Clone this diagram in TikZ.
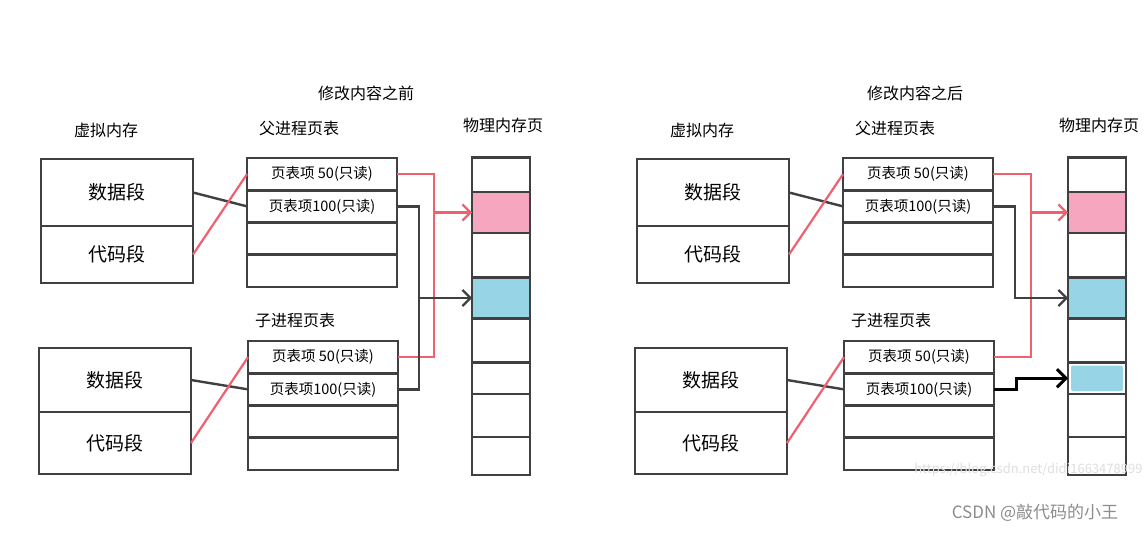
\documentclass[tikz,border=0pt]{standalone}
\usepackage{fontspec}
\setmainfont{Noto Sans CJK SC}
\usetikzlibrary{positioning, arrows.meta}

\definecolor{pagepink}{HTML}{F7A6BF}
\definecolor{pageblue}{HTML}{96D4E6}
\definecolor{linkred}{HTML}{F0606E}
\definecolor{boxgray}{HTML}{404040}

\begin{document}
\begin{tikzpicture}[x=1pt, y=-1pt,
    cell/.style={draw=boxgray, line width=2.6pt, inner sep=0pt, outer sep=0pt, font=\fontsize{14.5}{16}\selectfont},
    vmcell/.style={cell, minimum width=152pt, font=\fontsize{19}{21}\selectfont},
    ptcell/.style={cell, minimum width=150pt, minimum height=32.25pt},
    pgcell/.style={cell, minimum width=58pt},
    head/.style={font=\fontsize{16}{18}\selectfont},
    redlink/.style={linkred, line width=2.2pt},
    graylink/.style={boxgray, line width=2.4pt},
    arrowtip/.style={-{Straight Barb[length=8pt, width=16pt, line width=2.2pt]}}
  ]
  \useasboundingbox (0,0) rectangle (1147,533);

  \node[head] (before) at (366,93) {修改内容之前};
  \node[head] (after) at (915,93) {修改内容之后};

  % both halves share the boxes
  \foreach \s/\dx in {L/0, R/596} {
    \begin{scope}[xshift=\dx pt]
      \node[head] (\s-vmhead) at (106,130) {虚拟内存};
      \node[head] (\s-pthead1) at (299,128) {父进程页表};
      \node[head] (\s-pthead2) at (295,320) {子进程页表};
      \node[head] (\s-pghead) at (503,125) {物理内存页};

      % virtual memory
      \node[vmcell, minimum height=67pt] (\s-data1) at (117,192.5) {数据段};
      \node[vmcell, minimum height=57pt, below=0pt of \s-data1] (\s-code1) {代码段};
      \node[vmcell, minimum height=64pt] (\s-data2) at (115,380) {数据段};
      \node[vmcell, minimum height=62pt, below=0pt of \s-data2] (\s-code2) {代码段};

      % page tables
      \foreach \i/\txt in {1/页表项 50(只读), 2/页表项100(只读), 3/, 4/} {
        \node[ptcell] (\s-pt1-\i) at (322,{158+32.25*(\i-0.5)}) {\txt};
        \node[ptcell] (\s-pt2-\i) at (323,{341+32.25*(\i-0.5)}) {\txt};
      }

      % physical pages
      \foreach \i/\t/\b/\f in {1/157.5/192/white, 2/192/233/pagepink, 3/233/277.5/white,
          4/277.5/318.5/pageblue, 5/318.5/362.5/white, 6/362.5/394/white,
          7/394/437/white, 8/437/475/white} {
        \node[pgcell, fill=\f, minimum height={\b-\t}] (\s-pg\i) at (501,{(\t+\b)/2}) {};
      }

      \draw[graylink] (\s-data1.east) -- (\s-pt1-2.west);
      \draw[redlink] (\s-code1.east) -- (\s-pt1-1.west);
      \draw[graylink] (\s-data2.east) -- (\s-pt2-2.west);
      \draw[redlink] (\s-code2.east) -- (\s-pt2-1.west);
    \end{scope}
  }

  % before: both tables share the pages
  \draw[redlink] (L-pt1-1.east) -- ++(37,0) |- (L-pt2-1.east);
  \draw[redlink, arrowtip] (L-pt1-1.east) ++(37,0) |- (L-pg2.west);
  \draw[graylink] (L-pt1-2.east) -- ++(22,0) |- (L-pt2-2.east);
  \draw[graylink, arrowtip] (L-pt1-2.east) ++(22,0) |- (L-pg4.west);

  % after: child gets its own copy
  \fill[pageblue, rounded corners=2pt] ([shift={(3pt,-3pt)}]R-pg6.north west) rectangle ([shift={(-3pt,3pt)}]R-pg6.south east);
  \draw[redlink] (R-pt1-1.east) -- ++(38,0) |- (R-pt2-1.east);
  \draw[redlink, arrowtip] (R-pt1-1.east) ++(38,0) |- (R-pg2.west);
  \draw[graylink, arrowtip] (R-pt1-2.east) -- ++(22,0) |- (R-pg4.west);
  \draw[black, line width=3pt, -{Straight Barb[length=9pt, width=18pt, line width=3pt]}]
    (R-pt2-2.east) -- ++(22,0) |- (R-pg6.west);

  \node[font=\fontsize{13}{15}\selectfont, text=black!13, anchor=east] (url) at (1146,470) {https://blog.csdn.net/didi1663478999};
  \node[font=\fontsize{17}{19}\selectfont, text=black!45] (mark) at (1035,513) {CSDN @敲代码的小王};
\end{tikzpicture}
\end{document}
